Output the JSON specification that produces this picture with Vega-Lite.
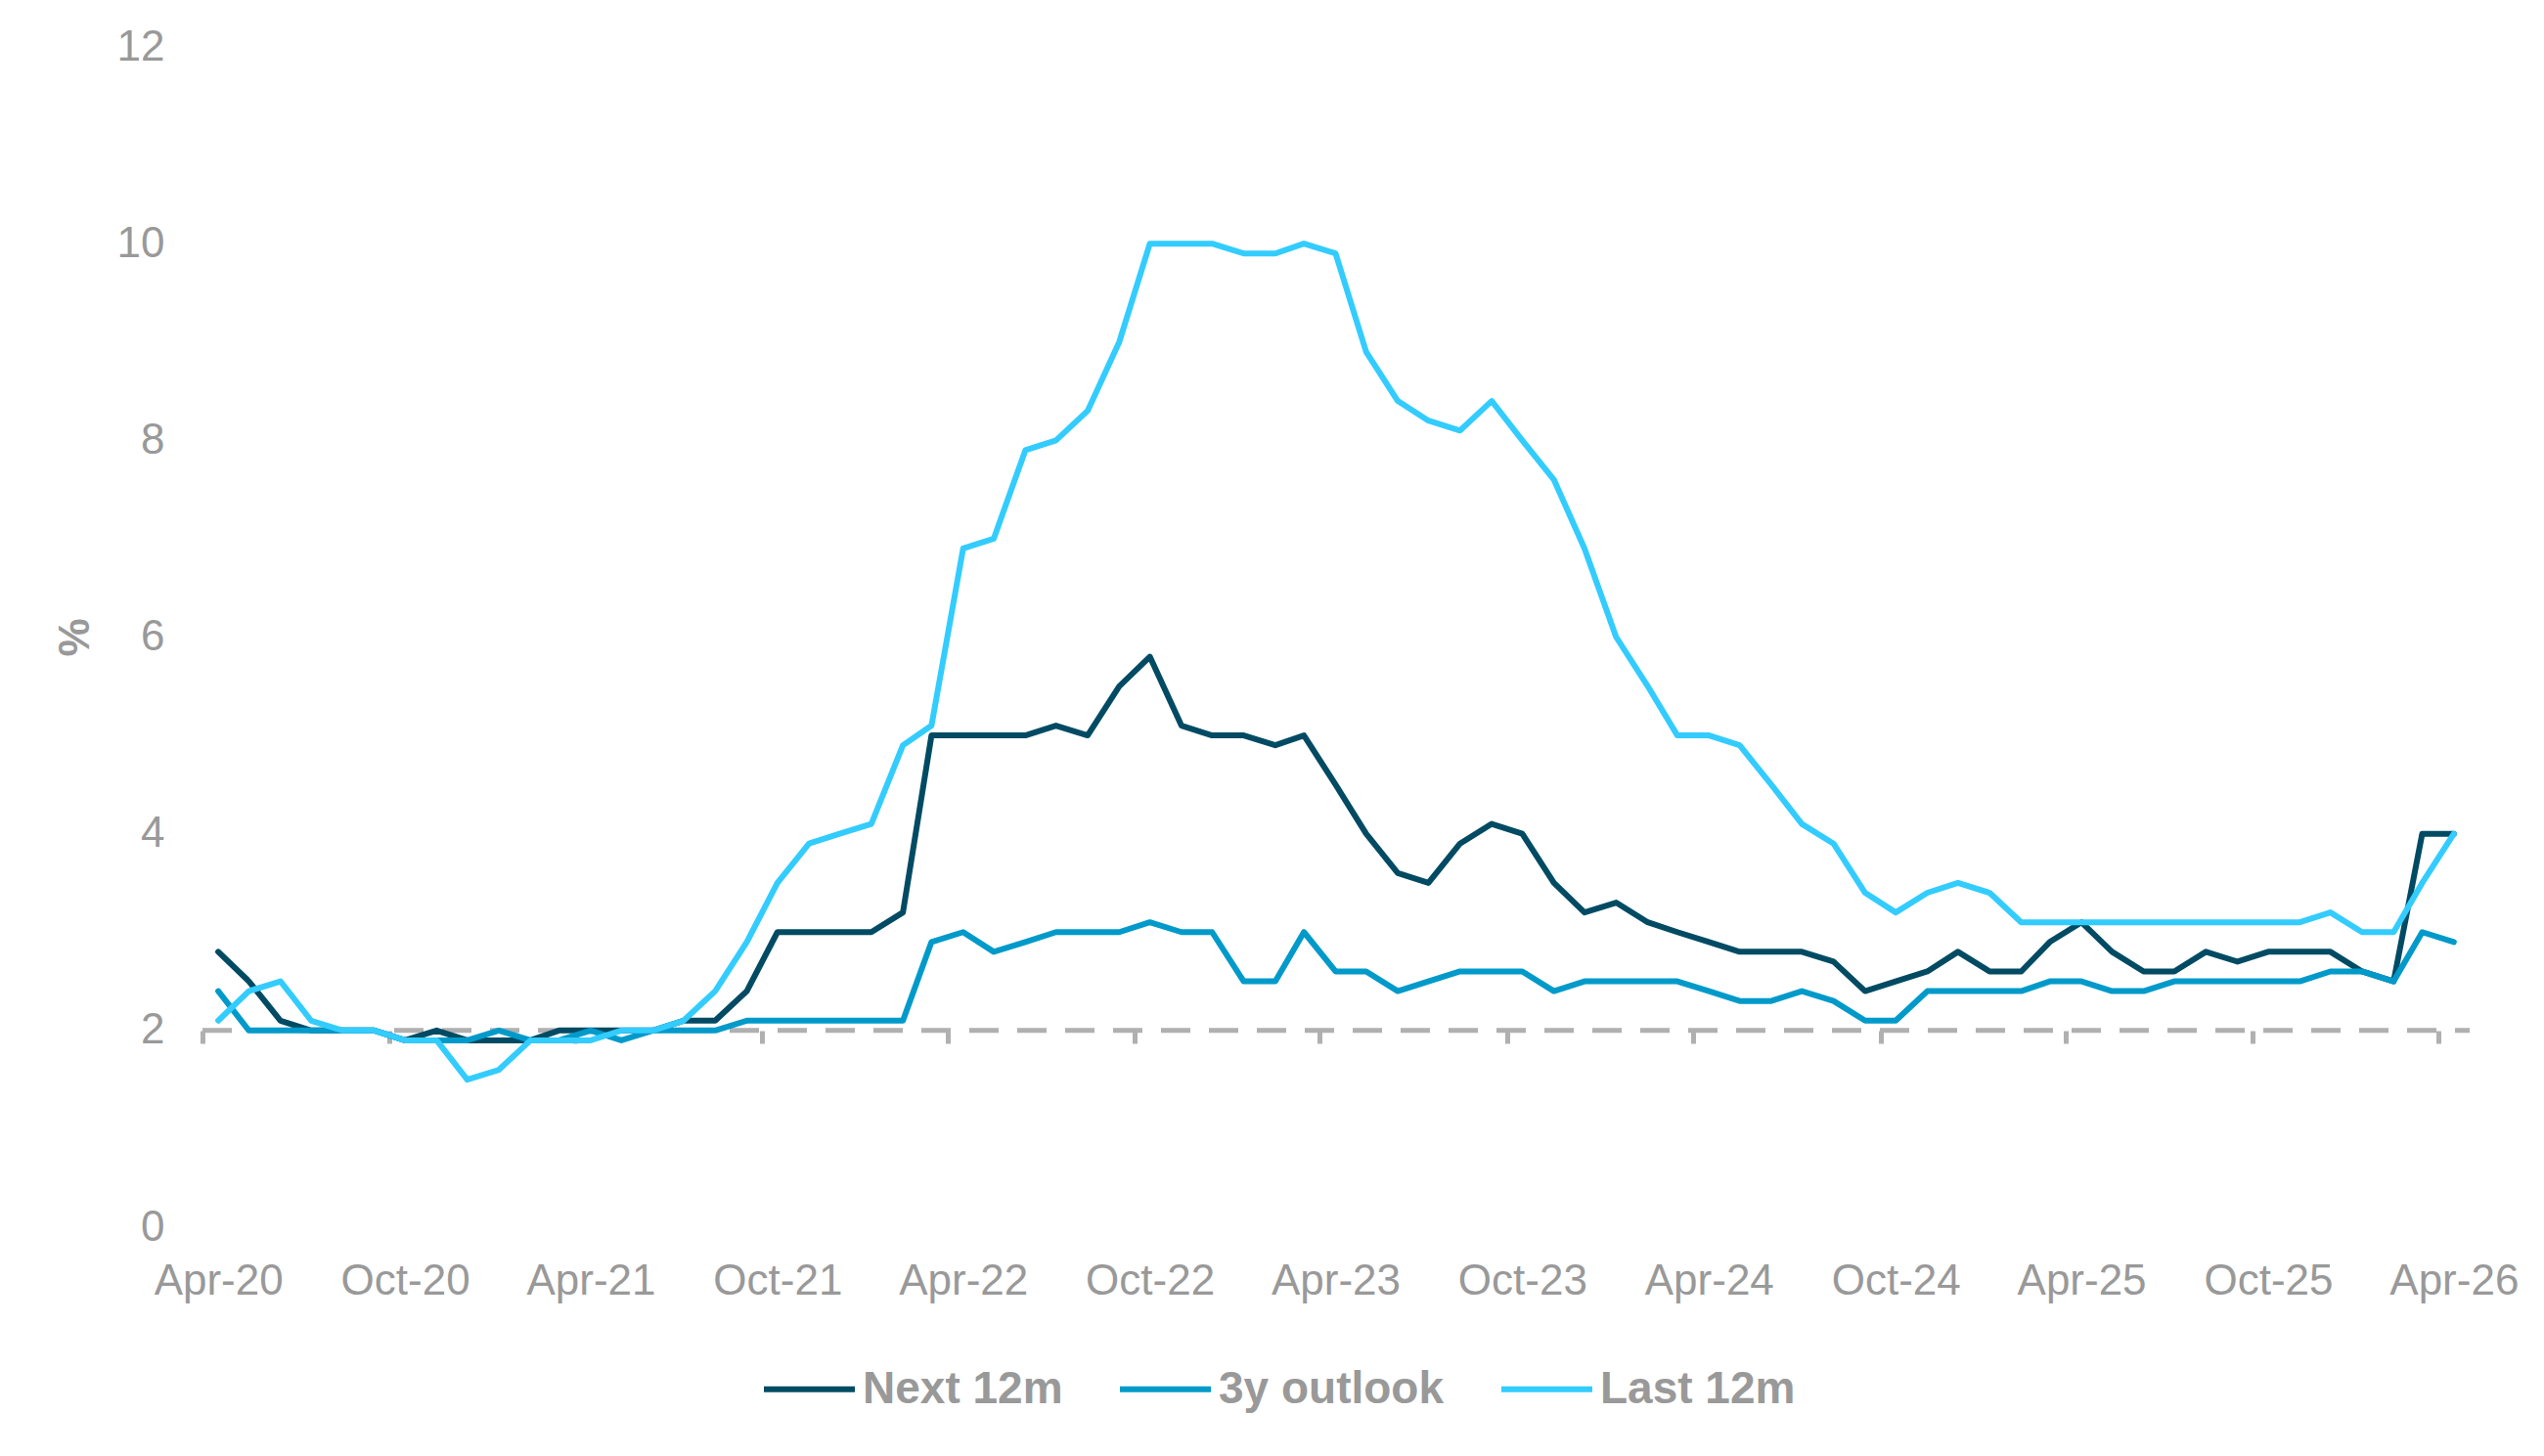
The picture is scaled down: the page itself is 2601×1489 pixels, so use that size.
{
  "$schema": "https://vega.github.io/schema/vega-lite/v6.json",
  "width": 2318,
  "height": 1207,
  "autosize": {"type": "none"},
  "padding": {"left": 207, "top": 48, "right": 76, "bottom": 234},
  "background": "white",
  "config": {"font": "Liberation Sans", "view": {"stroke": null}},
  "data": {"values": [
    {"d":"2020-04-01","Next 12m":2.8,"3y outlook":2.4,"Last 12m":2.1},
    {"d":"2020-05-01","Next 12m":2.5,"3y outlook":2.0,"Last 12m":2.4},
    {"d":"2020-06-01","Next 12m":2.1,"3y outlook":2.0,"Last 12m":2.5},
    {"d":"2020-07-01","Next 12m":2.0,"3y outlook":2.0,"Last 12m":2.1},
    {"d":"2020-08-01","Next 12m":2.0,"3y outlook":2.0,"Last 12m":2.0},
    {"d":"2020-09-01","Next 12m":2.0,"3y outlook":2.0,"Last 12m":2.0},
    {"d":"2020-10-01","Next 12m":1.9,"3y outlook":1.9,"Last 12m":1.9},
    {"d":"2020-11-01","Next 12m":2.0,"3y outlook":1.9,"Last 12m":1.9},
    {"d":"2020-12-01","Next 12m":1.9,"3y outlook":1.9,"Last 12m":1.5},
    {"d":"2021-01-01","Next 12m":1.9,"3y outlook":2.0,"Last 12m":1.6},
    {"d":"2021-02-01","Next 12m":1.9,"3y outlook":1.9,"Last 12m":1.9},
    {"d":"2021-03-01","Next 12m":2.0,"3y outlook":1.9,"Last 12m":1.9},
    {"d":"2021-04-01","Next 12m":2.0,"3y outlook":2.0,"Last 12m":1.9},
    {"d":"2021-05-01","Next 12m":2.0,"3y outlook":1.9,"Last 12m":2.0},
    {"d":"2021-06-01","Next 12m":2.0,"3y outlook":2.0,"Last 12m":2.0},
    {"d":"2021-07-01","Next 12m":2.1,"3y outlook":2.0,"Last 12m":2.1},
    {"d":"2021-08-01","Next 12m":2.1,"3y outlook":2.0,"Last 12m":2.4},
    {"d":"2021-09-01","Next 12m":2.4,"3y outlook":2.1,"Last 12m":2.9},
    {"d":"2021-10-01","Next 12m":3.0,"3y outlook":2.1,"Last 12m":3.5},
    {"d":"2021-11-01","Next 12m":3.0,"3y outlook":2.1,"Last 12m":3.9},
    {"d":"2021-12-01","Next 12m":3.0,"3y outlook":2.1,"Last 12m":4.0},
    {"d":"2022-01-01","Next 12m":3.0,"3y outlook":2.1,"Last 12m":4.1},
    {"d":"2022-02-01","Next 12m":3.2,"3y outlook":2.1,"Last 12m":4.9},
    {"d":"2022-03-01","Next 12m":5.0,"3y outlook":2.9,"Last 12m":5.1},
    {"d":"2022-04-01","Next 12m":5.0,"3y outlook":3.0,"Last 12m":6.9},
    {"d":"2022-05-01","Next 12m":5.0,"3y outlook":2.8,"Last 12m":7.0},
    {"d":"2022-06-01","Next 12m":5.0,"3y outlook":2.9,"Last 12m":7.9},
    {"d":"2022-07-01","Next 12m":5.1,"3y outlook":3.0,"Last 12m":8.0},
    {"d":"2022-08-01","Next 12m":5.0,"3y outlook":3.0,"Last 12m":8.3},
    {"d":"2022-09-01","Next 12m":5.5,"3y outlook":3.0,"Last 12m":9.0},
    {"d":"2022-10-01","Next 12m":5.8,"3y outlook":3.1,"Last 12m":10.0},
    {"d":"2022-11-01","Next 12m":5.1,"3y outlook":3.0,"Last 12m":10.0},
    {"d":"2022-12-01","Next 12m":5.0,"3y outlook":3.0,"Last 12m":10.0},
    {"d":"2023-01-01","Next 12m":5.0,"3y outlook":2.5,"Last 12m":9.9},
    {"d":"2023-02-01","Next 12m":4.9,"3y outlook":2.5,"Last 12m":9.9},
    {"d":"2023-03-01","Next 12m":5.0,"3y outlook":3.0,"Last 12m":10.0},
    {"d":"2023-04-01","Next 12m":4.5,"3y outlook":2.6,"Last 12m":9.9},
    {"d":"2023-05-01","Next 12m":4.0,"3y outlook":2.6,"Last 12m":8.9},
    {"d":"2023-06-01","Next 12m":3.6,"3y outlook":2.4,"Last 12m":8.4},
    {"d":"2023-07-01","Next 12m":3.5,"3y outlook":2.5,"Last 12m":8.2},
    {"d":"2023-08-01","Next 12m":3.9,"3y outlook":2.6,"Last 12m":8.1},
    {"d":"2023-09-01","Next 12m":4.1,"3y outlook":2.6,"Last 12m":8.4},
    {"d":"2023-10-01","Next 12m":4.0,"3y outlook":2.6,"Last 12m":8.0},
    {"d":"2023-11-01","Next 12m":3.5,"3y outlook":2.4,"Last 12m":7.6},
    {"d":"2023-12-01","Next 12m":3.2,"3y outlook":2.5,"Last 12m":6.9},
    {"d":"2024-01-01","Next 12m":3.3,"3y outlook":2.5,"Last 12m":6.0},
    {"d":"2024-02-01","Next 12m":3.1,"3y outlook":2.5,"Last 12m":5.5},
    {"d":"2024-03-01","Next 12m":3.0,"3y outlook":2.5,"Last 12m":5.0},
    {"d":"2024-04-01","Next 12m":2.9,"3y outlook":2.4,"Last 12m":5.0},
    {"d":"2024-05-01","Next 12m":2.8,"3y outlook":2.3,"Last 12m":4.9},
    {"d":"2024-06-01","Next 12m":2.8,"3y outlook":2.3,"Last 12m":4.5},
    {"d":"2024-07-01","Next 12m":2.8,"3y outlook":2.4,"Last 12m":4.1},
    {"d":"2024-08-01","Next 12m":2.7,"3y outlook":2.3,"Last 12m":3.9},
    {"d":"2024-09-01","Next 12m":2.4,"3y outlook":2.1,"Last 12m":3.4},
    {"d":"2024-10-01","Next 12m":2.5,"3y outlook":2.1,"Last 12m":3.2},
    {"d":"2024-11-01","Next 12m":2.6,"3y outlook":2.4,"Last 12m":3.4},
    {"d":"2024-12-01","Next 12m":2.8,"3y outlook":2.4,"Last 12m":3.5},
    {"d":"2025-01-01","Next 12m":2.6,"3y outlook":2.4,"Last 12m":3.4},
    {"d":"2025-02-01","Next 12m":2.6,"3y outlook":2.4,"Last 12m":3.1},
    {"d":"2025-03-01","Next 12m":2.9,"3y outlook":2.5,"Last 12m":3.1},
    {"d":"2025-04-01","Next 12m":3.1,"3y outlook":2.5,"Last 12m":3.1},
    {"d":"2025-05-01","Next 12m":2.8,"3y outlook":2.4,"Last 12m":3.1},
    {"d":"2025-06-01","Next 12m":2.6,"3y outlook":2.4,"Last 12m":3.1},
    {"d":"2025-07-01","Next 12m":2.6,"3y outlook":2.5,"Last 12m":3.1},
    {"d":"2025-08-01","Next 12m":2.8,"3y outlook":2.5,"Last 12m":3.1},
    {"d":"2025-09-01","Next 12m":2.7,"3y outlook":2.5,"Last 12m":3.1},
    {"d":"2025-10-01","Next 12m":2.8,"3y outlook":2.5,"Last 12m":3.1},
    {"d":"2025-11-01","Next 12m":2.8,"3y outlook":2.5,"Last 12m":3.1},
    {"d":"2025-12-01","Next 12m":2.8,"3y outlook":2.6,"Last 12m":3.2},
    {"d":"2026-01-01","Next 12m":2.6,"3y outlook":2.6,"Last 12m":3.0},
    {"d":"2026-02-01","Next 12m":2.5,"3y outlook":2.5,"Last 12m":3.0},
    {"d":"2026-03-01","Next 12m":4.0,"3y outlook":3.0,"Last 12m":3.5},
    {"d":"2026-04-01","Next 12m":4.0,"3y outlook":2.9,"Last 12m":4.0}
  ]},
  "layer": [
    {
      "data": {"values": [{}]},
      "mark": {"type": "rule", "color": "#B0B0B0", "strokeWidth": 5, "strokeDash": [30, 19]},
      "encoding": {
        "x": {
          "datum": {"year": 2020, "month": 3, "date": 16, "hours": 12, "utc": true},
          "type": "temporal",
          "scale": {"type": "utc", "domain": [{"year": 2020, "month": 3, "date": 16, "hours": 12, "utc": true}, {"year": 2026, "month": 4, "date": 16, "hours": 12, "utc": true}]},
          "axis": {
            "orient": "bottom",
            "offset": -201,
            "values": [
              {"year": 2020, "month": 3, "date": 16, "hours": 12, "utc": true},
              {"year": 2020, "month": 9, "date": 16, "utc": true},
              {"year": 2021, "month": 3, "date": 16, "hours": 12, "utc": true},
              {"year": 2021, "month": 9, "date": 16, "utc": true},
              {"year": 2022, "month": 3, "date": 16, "hours": 12, "utc": true},
              {"year": 2022, "month": 9, "date": 16, "utc": true},
              {"year": 2023, "month": 3, "date": 16, "hours": 12, "utc": true},
              {"year": 2023, "month": 9, "date": 16, "utc": true},
              {"year": 2024, "month": 3, "date": 16, "hours": 12, "utc": true},
              {"year": 2024, "month": 9, "date": 16, "utc": true},
              {"year": 2025, "month": 3, "date": 16, "hours": 12, "utc": true},
              {"year": 2025, "month": 9, "date": 16, "utc": true},
              {"year": 2026, "month": 3, "date": 16, "hours": 12, "utc": true}
            ],
            "labels": false,
            "domain": false,
            "grid": false,
            "ticks": true,
            "tickColor": "#B0B0B0",
            "tickWidth": 5,
            "tickSize": 13,
            "title": null
          }
        },
        "x2": {"datum": {"year": 2026, "month": 4, "date": 16, "hours": 12, "utc": true}},
        "y": {"datum": 2, "type": "quantitative", "scale": {"domain": [0, 12]}}
      }
    },
    {
      "transform": [{"fold": ["Next 12m", "3y outlook", "Last 12m"], "as": ["series", "value"]}],
      "mark": {"type": "line", "strokeWidth": 6, "strokeJoin": "round", "strokeCap": "round"},
      "encoding": {
        "x": {
          "field": "d",
          "type": "temporal",
          "scale": {"type": "utc", "domain": [{"year": 2020, "month": 3, "date": 16, "hours": 12, "utc": true}, {"year": 2026, "month": 4, "date": 16, "hours": 12, "utc": true}]},
          "axis": {
            "orient": "bottom",
            "values": [
              {"year": 2020, "month": 4, "date": 1, "utc": true},
              {"year": 2020, "month": 10, "date": 1, "utc": true},
              {"year": 2021, "month": 4, "date": 1, "utc": true},
              {"year": 2021, "month": 10, "date": 1, "utc": true},
              {"year": 2022, "month": 4, "date": 1, "utc": true},
              {"year": 2022, "month": 10, "date": 1, "utc": true},
              {"year": 2023, "month": 4, "date": 1, "utc": true},
              {"year": 2023, "month": 10, "date": 1, "utc": true},
              {"year": 2024, "month": 4, "date": 1, "utc": true},
              {"year": 2024, "month": 10, "date": 1, "utc": true},
              {"year": 2025, "month": 4, "date": 1, "utc": true},
              {"year": 2025, "month": 10, "date": 1, "utc": true},
              {"year": 2026, "month": 4, "date": 1, "utc": true}
            ],
            "format": "%b-%y",
            "labelFontSize": 44,
            "labelColor": "#999999",
            "labelPadding": 33,
            "labelFlush": false,
            "labelOverlap": false,
            "ticks": false,
            "tickSize": 0,
            "domain": false,
            "grid": false,
            "title": null
          }
        },
        "y": {
          "field": "value",
          "type": "quantitative",
          "scale": {"domain": [0, 12]},
          "axis": {
            "values": [0, 2, 4, 6, 8, 10, 12],
            "format": "d",
            "title": "%",
            "titleFontSize": 44,
            "titleFontWeight": "bold",
            "titleColor": "#999999",
            "titlePadding": 20,
            "labelFontSize": 44,
            "labelColor": "#999999",
            "labelPadding": 39,
            "ticks": false,
            "domain": false,
            "gridColor": "#E5E5E5",
            "gridWidth": 2.5
          }
        },
        "color": {
          "field": "series",
          "type": "nominal",
          "scale": {"domain": ["Next 12m", "3y outlook", "Last 12m"], "range": ["#004B63", "#009ACA", "#33CCFF"]},
          "legend": {
            "orient": "none",
            "legendX": 571,
            "legendY": 1323,
            "direction": "horizontal",
            "title": null,
            "symbolType": "stroke",
            "symbolSize": 8649,
            "symbolStrokeWidth": 6,
            "labelFontSize": 46,
            "labelFontWeight": "bold",
            "labelColor": "#999999",
            "labelOffset": 5,
            "labelLimit": 500,
            "columnPadding": 46,
            "padding": 0
          }
        }
      }
    }
  ],
  "resolve": {"axis": {"x": "independent"}}
}
